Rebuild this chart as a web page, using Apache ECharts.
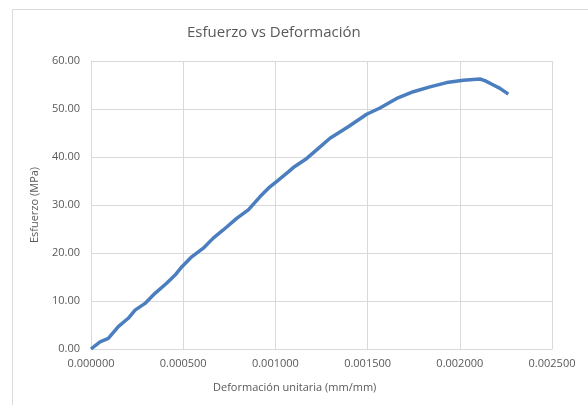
<!DOCTYPE html>
<html>
<head>
<meta charset="utf-8">
<script src="https://cdn.jsdelivr.net/npm/echarts@6/dist/echarts.min.js"></script>
<style>
  html, body { margin: 0; padding: 0; background: #fff; }
  #chart { width: 588px; height: 405px; }
</style>
</head>
<body>
<div id="chart"></div>
<script>
// deformación unitaria (mm/mm)
var strain = [0, 0.000049, 0.000094, 0.000148, 0.000202, 0.000239, 0.000293, 0.000347,
  0.000410, 0.000456, 0.000492, 0.000546, 0.000609, 0.000663, 0.000717, 0.000790,
  0.000853, 0.000916, 0.000962, 0.001016, 0.001070, 0.001097, 0.001170, 0.001233,
  0.001296, 0.001395, 0.001495, 0.001567, 0.001612, 0.001658, 0.001748, 0.001838,
  0.001929, 0.002019, 0.002109, 0.002136, 0.002182, 0.002218, 0.002263]
// esfuerzo (MPa)
var stress = [0, 1.5, 2.2, 4.65, 6.4, 8.1, 9.5, 11.6,
  13.7, 15.4, 17.1, 19.2, 21.0, 23.1, 24.8, 27.2,
  29.0, 31.7, 33.5, 35.2, 36.9, 37.8, 39.7, 41.8,
  43.9, 46.3, 48.9, 50.2, 51.2, 52.2, 53.6, 54.6,
  55.5, 56.0, 56.25, 55.9, 55.0, 54.3, 53.1]

var points = strain.map(function (x, i) { return [x, stress[i]] })

var chart = echarts.init(document.getElementById('chart'))
var textColor = '#595959'
var gridColor = '#d9d9d9'
var font = 'Open Sans'

chart.setOption({
  animation: false,
  title: [{
    text: 'Esfuerzo vs Deformación',
    left: 182,
    top: 20,
    textStyle: { fontFamily: font, fontSize: 15, fontWeight: 'normal', color: textColor }
  }, {
    text: 'Deformación unitaria (mm/mm)',
    left: 208,
    top: 377,
    textStyle: { fontFamily: font, fontSize: 11, fontWeight: 'normal', color: textColor }
  }],
  graphic: [{
    type: 'rect',
    shape: { x: 12.5, y: 9.5, width: 620, height: 440 },
    style: { fill: 'none', stroke: gridColor, lineWidth: 1 },
    silent: true
  }],
  grid: { left: 91, right: 36, top: 61, bottom: 56 },
  xAxis: {
    type: 'value',
    min: 0,
    max: 0.0025,
    interval: 0.0005,
    axisLine: { show: true, lineStyle: { color: gridColor } },
    axisTick: { show: false },
    splitLine: { show: true, lineStyle: { color: gridColor } },
    axisLabel: {
      margin: 9,
      fontFamily: font, fontSize: 11, color: textColor,
      formatter: function (v) { return v.toFixed(6) }
    }
  },
  yAxis: {
    type: 'value',
    min: 0,
    max: 60,
    interval: 10,
    name: 'Esfuerzo (MPa)',
    nameLocation: 'middle',
    nameGap: 51,
    nameTextStyle: { fontFamily: font, fontSize: 11, color: textColor },
    axisLine: { show: true, lineStyle: { color: gridColor } },
    axisTick: { show: false },
    splitLine: { show: true, lineStyle: { color: gridColor } },
    axisLabel: {
      margin: 11,
      fontFamily: font, fontSize: 11, color: textColor,
      formatter: function (v) { return v.toFixed(2) }
    }
  },
  series: [{
    type: 'line',
    data: points,
    showSymbol: false,
    lineStyle: { color: '#4a7ebf', width: 3.5 },
    itemStyle: { color: '#4a7ebf' }
  }]
})
</script>
</body>
</html>
